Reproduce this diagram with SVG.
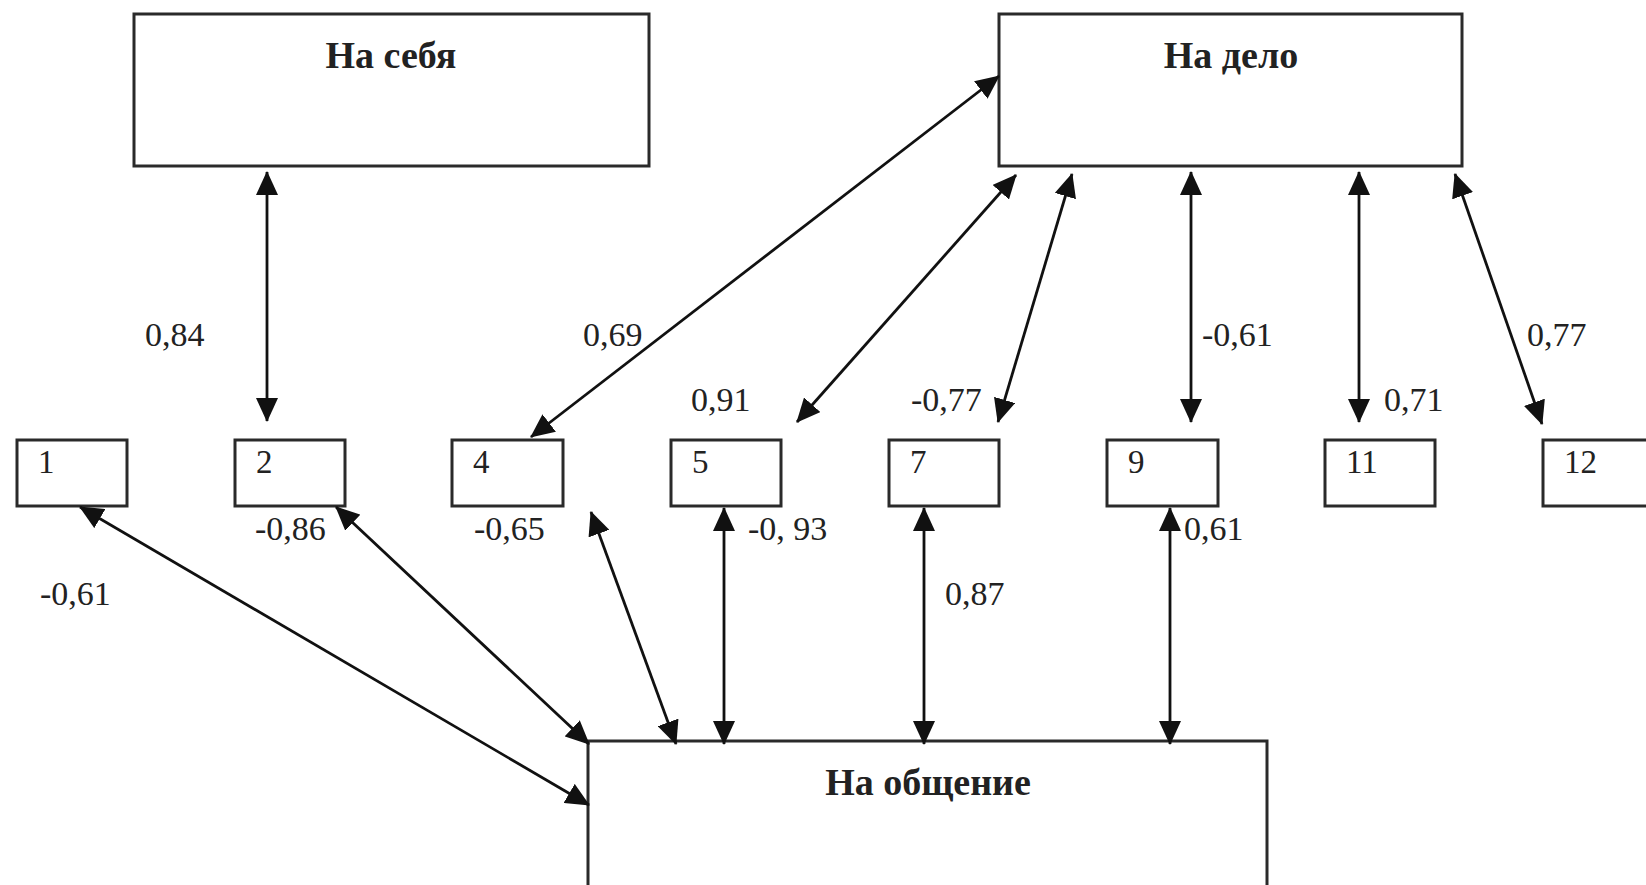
<svg xmlns="http://www.w3.org/2000/svg" width="1646" height="885" viewBox="0 0 1646 885">
<style>
.box{fill:#fff;stroke:#2a2a2a;stroke-width:3}
.title{font-family:"Liberation Serif","Times New Roman",serif;font-weight:bold;font-size:38px;fill:#222;text-anchor:middle}
.num{font-family:"Liberation Serif","Times New Roman",serif;font-size:33px;fill:#222}
.lbl{font-family:"Liberation Serif","Times New Roman",serif;font-size:34px;fill:#222}
.conn{stroke:#111;stroke-width:2.8;fill:none;marker-start:url(#ah);marker-end:url(#ah)}
</style>
<defs>
<marker id="ah" viewBox="0 0 24 22" refX="23" refY="11" markerWidth="24" markerHeight="22" markerUnits="userSpaceOnUse" orient="auto-start-reverse">
<path d="M0,0 L24,11 L0,22 z" fill="#111"/>
</marker>
</defs>
<rect width="1646" height="885" fill="#fff"/>
<g id="na-sebya"><rect class="box" x="134" y="14" width="515" height="152"/><text class="title" x="391" y="68">На себя</text></g>
<g id="na-delo"><rect class="box" x="999" y="14" width="463" height="152"/><text class="title" x="1231" y="68">На дело</text></g>
<g id="na-obshchenie"><rect class="box" x="588" y="741" width="679" height="170"/><text class="title" x="928" y="795">На общение</text></g>
<g id="n1"><rect class="box" x="17" y="440" width="110" height="66"/><text class="num" x="38" y="473">1</text></g>
<g id="n2"><rect class="box" x="235" y="440" width="110" height="66"/><text class="num" x="256" y="473">2</text></g>
<g id="n4"><rect class="box" x="452" y="440" width="111" height="66"/><text class="num" x="473" y="473">4</text></g>
<g id="n5"><rect class="box" x="671" y="440" width="110" height="66"/><text class="num" x="692" y="473">5</text></g>
<g id="n7"><rect class="box" x="889" y="440" width="110" height="66"/><text class="num" x="910" y="473">7</text></g>
<g id="n9"><rect class="box" x="1107" y="440" width="111" height="66"/><text class="num" x="1128" y="473">9</text></g>
<g id="n11"><rect class="box" x="1325" y="440" width="110" height="66"/><text class="num" x="1346" y="473">11</text></g>
<g id="n12"><rect class="box" x="1543" y="440" width="110" height="66"/><text class="num" x="1564" y="473">12</text></g>
<g id="connectors">
<line class="conn" x1="267" y1="172" x2="267" y2="421"/>
<line class="conn" x1="999" y1="76" x2="531" y2="437"/>
<line class="conn" x1="1016" y1="175" x2="797" y2="422"/>
<line class="conn" x1="1072" y1="174" x2="998" y2="422"/>
<line class="conn" x1="1191" y1="172" x2="1191" y2="422"/>
<line class="conn" x1="1359" y1="172" x2="1359" y2="422"/>
<line class="conn" x1="1455" y1="174" x2="1542" y2="424"/>
<line class="conn" x1="80" y1="507" x2="589" y2="805"/>
<line class="conn" x1="336" y1="507" x2="589" y2="744"/>
<line class="conn" x1="591" y1="512" x2="676" y2="744"/>
<line class="conn" x1="724" y1="508" x2="724" y2="744"/>
<line class="conn" x1="924" y1="508" x2="924" y2="744"/>
<line class="conn" x1="1170" y1="508" x2="1170" y2="744"/>
</g>
<g id="labels">
<text class="lbl" x="145" y="346">0,84</text>
<text class="lbl" x="583" y="346">0,69</text>
<text class="lbl" x="691" y="411">0,91</text>
<text class="lbl" x="911" y="411">-0,77</text>
<text class="lbl" x="1202" y="346">-0,61</text>
<text class="lbl" x="1384" y="411">0,71</text>
<text class="lbl" x="1527" y="346">0,77</text>
<text class="lbl" x="255" y="540">-0,86</text>
<text class="lbl" x="474" y="540">-0,65</text>
<text class="lbl" x="748" y="540">-0, 93</text>
<text class="lbl" x="1184" y="540">0,61</text>
<text class="lbl" x="40" y="605">-0,61</text>
<text class="lbl" x="945" y="605">0,87</text>
</g>
</svg>
